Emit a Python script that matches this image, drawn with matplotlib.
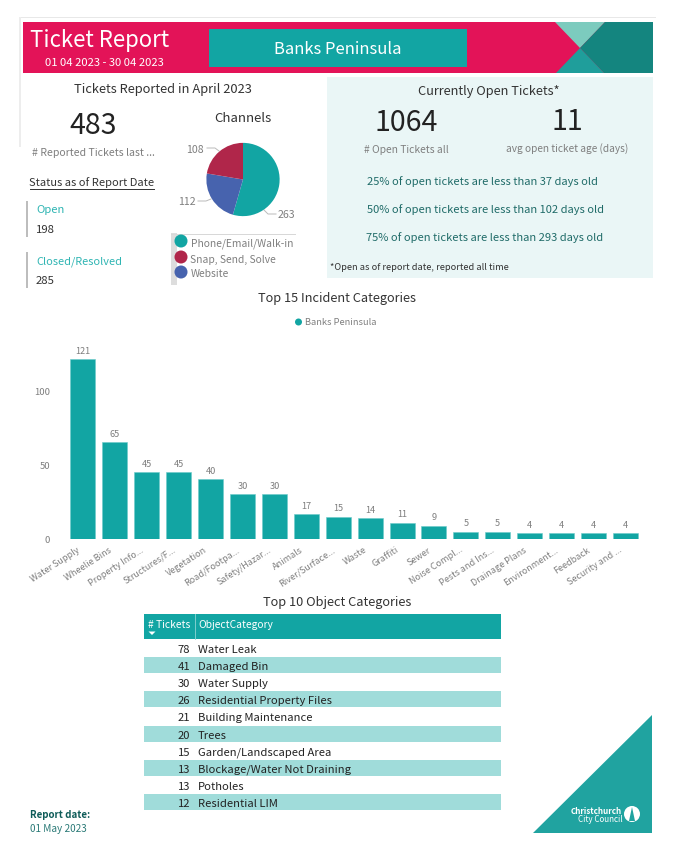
import matplotlib
matplotlib.use("Agg")
import matplotlib.pyplot as plt
from matplotlib.patches import Rectangle, Polygon, Circle

plt.rcParams["font.family"] = ["Noto Sans CJK SC", "DejaVu Sans"]

W, H = 675, 862

TEAL = "#12A5A3"
PINK = "#E31358"
GREY = "#7F7F7F"
DARK = "#333333"
DEEP = "#1F6B68"

# bar chart
incident_categories = ["Water Supply", "Wheelie Bins", "Property Info...", "Structures/F...",
                       "Vegetation", "Road/Footpa...", "Safety/Hazar...", "Animals",
                       "River/Surface...", "Waste", "Graffiti", "Sewer", "Noise Compl...",
                       "Pests and Ins...", "Drainage Plans", "Environment...", "Feedback",
                       "Security and ..."]
incident_counts = [121, 65, 45, 45, 40, 30, 30, 17, 15, 14, 11, 9, 5, 5, 4, 4, 4, 4]
y_ticks = [0, 50, 100]

# pie
channel_names = ["Phone/Email/Walk-in", "Website", "Snap, Send, Solve"]
channel_counts = [263, 112, 108]
channel_colors = ["#12A5A3", "#4763AE", "#B0264A"]

# table
object_counts = [78, 41, 30, 26, 21, 20, 15, 13, 13, 12]
object_names = ["Water Leak", "Damaged Bin", "Water Supply", "Residential Property Files",
                "Building Maintenance", "Trees", "Garden/Landscaped Area",
                "Blockage/Water Not Draining", "Potholes", "Residential LIM"]

# open ticket age lines
age_pct = [25, 50, 75]
age_days = [37, 102, 293]


def pixel_axes(fig, left, top, right, bottom):
    """axes placed by pixel box, y measured from the top of the image"""
    return fig.add_axes([left / W, 1 - bottom / H, (right - left) / W, (bottom - top) / H])


def label(ax, x, y, s, size=9, color=DARK, ha="center", **kw):
    ax.text(x, y, s, fontsize=size, color=color, ha=ha, va="center", **kw)


fig = plt.figure(figsize=(W / 100, H / 100), dpi=100, facecolor="white")

# page layer, coordinates are image pixels
bg = fig.add_axes([0, 0, 1, 1])
bg.set_xlim(0, W)
bg.set_ylim(H, 0)
bg.axis("off")

# ── header ──
bg.add_patch(Rectangle((19, 17.5), 637, 1.5, color="#E8E8E8", lw=0))
bg.add_patch(Rectangle((19, 18), 1.5, 130, color="#EDEDED", lw=0))
bg.add_patch(Rectangle((23, 23), 630, 51, color=PINK, lw=0))
bg.add_patch(Polygon([(555, 23), (605, 23), (580, 49)], color="#7CCBBE", lw=0))
bg.add_patch(Polygon([(605, 23), (653, 23), (653, 74), (604, 74), (580, 49)], color="#14857F", lw=0))
bg.add_patch(Polygon([(556, 74), (580, 49), (604, 74)], color="#1F9E9B", lw=0))
bg.add_patch(Rectangle((209, 30), 258, 38, color=TEAL, lw=0))
label(bg, 100, 40.5, "Ticket Report", 16, "white")
label(bg, 104, 63.5, "01 04 2023 - 30 04 2023", 8.1, "white")
label(bg, 338, 49.5, "Banks Peninsula", 12, "white")

# ── left block ──
label(bg, 163, 90, "Tickets Reported in April 2023", 9.3)
label(bg, 93, 126, "483", 20.5, "#222222")
label(bg, 93, 153, "# Reported Tickets last ...", 7.6, GREY)
label(bg, 92, 183, "Status as of Report Date", 8, ha="center")
bg.plot([30, 154], [189.5, 189.5], color=DARK, lw=0.7)
bg.add_patch(Rectangle((26, 202), 1.5, 36, color="#BDBDBD", lw=0))
label(bg, 36, 210, "Open", 8.1, "#2FB5B3", ha="left")
label(bg, 36, 230, "198", 8.2, ha="left")
bg.add_patch(Rectangle((26, 253), 1.5, 36, color="#BDBDBD", lw=0))
label(bg, 36, 262, "Closed/Resolved", 7.9, "#2FB5B3", ha="left")
label(bg, 36, 281, "285", 8.2, ha="left")

# ── channels pie ──
label(bg, 243, 118, "Channels", 9.5)
ax_pie = pixel_axes(fig, 206, 143.5, 280, 217.5)
ax_pie.pie(channel_counts, colors=channel_colors, startangle=90, counterclock=False,
           radius=1, wedgeprops={"linewidth": 0})
ax_pie.set_xlim(-1.01, 1.01)
ax_pie.set_ylim(-1.01, 1.01)

label(bg, 278, 215, channel_counts[0], 7.6, GREY, ha="left")
bg.plot([264, 268, 276], [211, 215, 215], color="#BBBBBB", lw=0.7)
label(bg, 187, 202, channel_counts[1], 7.6, GREY)
bg.plot([198, 206, 211], [202, 202, 200], color="#BBBBBB", lw=0.7)
label(bg, 195, 150, channel_counts[2], 7.6, GREY)
bg.plot([207, 215, 219], [149, 149, 152], color="#BBBBBB", lw=0.7)

bg.add_patch(Rectangle((171, 234), 6, 52, color="#DDDDDD", lw=0))
bg.add_patch(Rectangle((171, 234.5), 125, 1.2, color="#D8D8D8", lw=0))
for (name, color), y in zip([(channel_names[0], channel_colors[0]),
                             (channel_names[2], channel_colors[2]),
                             (channel_names[1], channel_colors[1])], [242, 258, 273]):
    bg.add_patch(Circle((181, y), 6.5, color=color, lw=0))
    label(bg, 190.5, y + 1.5, name, 7.4, GREY, ha="left")

# ── open tickets panel ──
bg.add_patch(Rectangle((327, 78), 326, 201, color="#EAF6F6", lw=0))
label(bg, 489, 91, "Currently Open Tickets*", 9.2)
label(bg, 406, 123, "1064", 20.5, "#222222")
label(bg, 567, 122, "11", 20.5, "#222222")
label(bg, 406, 150, "# Open Tickets all", 7.4, GREY)
label(bg, 567, 149, "avg open ticket age (days)", 7.3, GREY)
for pct, days, x, y in zip(age_pct, age_days, [367, 367, 366], [182, 210, 238]):
    label(bg, x, y, f"{pct}% of open tickets are less than {days} days old", 8, DEEP, ha="left")
label(bg, 330, 268, "*Open as of report date, reported all time", 6.7, DARK, ha="left")

# ── incident bars ──
label(bg, 337, 298.5, "Top 15 Incident Categories", 9.2)
bg.add_patch(Circle((298.5, 323), 3.5, color=TEAL, lw=0))
label(bg, 305, 323, "Banks Peninsula", 6.7, GREY, ha="left")

ax = pixel_axes(fig, 60, 345, 650, 540)
positions = list(range(len(incident_counts)))
bars = ax.bar(positions, incident_counts, width=0.785, color=TEAL, edgecolor="#6CCBC9", linewidth=0.4)
ax.bar_label(bars, padding=3, fontsize=6.6, color=GREY)
ax.set_xlim(-0.72, 17.77)
ax.set_ylim(0, 130.9)
# labels end a little left of the bar centre
ax.set_xticks([p - 0.2 for p in positions])
ax.set_xticklabels(incident_categories, rotation=33, ha="right", rotation_mode="anchor",
                   fontsize=6.5, color=GREY)
ax.set_yticks(y_ticks)
ax.tick_params(axis="y", length=0, labelsize=6.8, labelcolor=GREY, pad=7)
ax.tick_params(axis="x", length=0, pad=4)
for spine in ax.spines.values():
    spine.set_visible(False)
ax.patch.set_alpha(0)

# ── object table ──
label(bg, 337, 603, "Top 10 Object Categories", 9.2)
table_left, table_right, col_x = 144, 500.5, 194.5
bg.add_patch(Rectangle((table_left, 615), table_right - table_left, 25, color=TEAL, lw=0))
bg.plot([col_x, col_x], [615, 640], color="#8FD6D4", lw=0.6)
label(bg, 148, 625, "# Tickets", 7.4, "white", ha="left")
label(bg, 198, 625, "ObjectCategory", 7.4, "white", ha="left")
bg.add_patch(Polygon([(148.5, 632.5), (155.5, 632.5), (152, 636)], color="white", lw=0))

row_h = 17.2
for i, (count, name) in enumerate(zip(object_counts, object_names)):
    y0 = 640 + i * row_h
    if i % 2 == 1:
        bg.add_patch(Rectangle((table_left, y0 + 0.5), table_right - table_left, row_h - 1,
                               color="#A0DCDA", lw=0))
    label(bg, 190, y0 + row_h / 2 + 1, count, 8.1, "#222222", ha="right")
    label(bg, 198, y0 + row_h / 2 + 1, name, 8.1, "#222222", ha="left")

# ── footer ──
label(bg, 30, 815, "Report date:", 7, "#0F5C59", ha="left", fontweight="bold")
label(bg, 30, 829, "01 May 2023", 7.2, "#2B7A77", ha="left")
bg.add_patch(Polygon([(533, 834), (652, 834), (652, 716)], color="#20A3A0", lw=0))
label(bg, 622, 811.5, "Christchurch", 5.8, "white", ha="right", fontweight="bold")
label(bg, 622, 819.5, "City Council", 5.8, "white", ha="right")
bg.add_patch(Circle((632, 815), 8, color="white", lw=0))
bg.add_patch(Polygon([(632, 808), (635, 822), (629, 822)], color="#20A3A0", lw=0))

fig.savefig("out.png", dpi=100)
